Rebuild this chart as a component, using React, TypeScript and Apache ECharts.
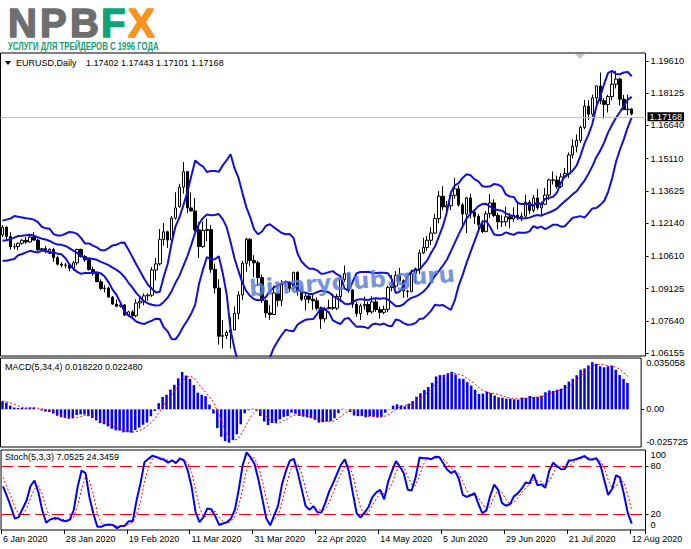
import React, { useEffect, useRef } from "react";
import * as echarts from "echarts";

// EURUSD daily bars, 6 Jan 2020 .. 12 Aug 2020 (March has three short Sunday bars)
const dates = [
  "6 Jan 2020", "7 Jan 2020", "8 Jan 2020", "9 Jan 2020", "10 Jan 2020",
  "13 Jan 2020", "14 Jan 2020", "15 Jan 2020", "16 Jan 2020", "17 Jan 2020",
  "20 Jan 2020", "21 Jan 2020", "22 Jan 2020", "23 Jan 2020", "24 Jan 2020",
  "27 Jan 2020", "28 Jan 2020", "29 Jan 2020", "30 Jan 2020", "31 Jan 2020",
  "3 Feb 2020", "4 Feb 2020", "5 Feb 2020", "6 Feb 2020", "7 Feb 2020",
  "10 Feb 2020", "11 Feb 2020", "12 Feb 2020", "13 Feb 2020", "14 Feb 2020",
  "17 Feb 2020", "18 Feb 2020", "19 Feb 2020", "20 Feb 2020", "21 Feb 2020",
  "24 Feb 2020", "25 Feb 2020", "26 Feb 2020", "27 Feb 2020", "28 Feb 2020",
  "2 Mar 2020", "3 Mar 2020", "4 Mar 2020", "5 Mar 2020", "6 Mar 2020",
  "8 Mar 2020", "9 Mar 2020", "10 Mar 2020", "11 Mar 2020", "12 Mar 2020", "13 Mar 2020",
  "15 Mar 2020", "16 Mar 2020", "17 Mar 2020", "18 Mar 2020", "19 Mar 2020", "20 Mar 2020",
  "22 Mar 2020", "23 Mar 2020", "24 Mar 2020", "25 Mar 2020", "26 Mar 2020", "27 Mar 2020",
  "30 Mar 2020", "31 Mar 2020",
  "1 Apr 2020", "2 Apr 2020", "3 Apr 2020",
  "6 Apr 2020", "7 Apr 2020", "8 Apr 2020", "9 Apr 2020", "10 Apr 2020",
  "13 Apr 2020", "14 Apr 2020", "15 Apr 2020", "16 Apr 2020", "17 Apr 2020",
  "20 Apr 2020", "21 Apr 2020", "22 Apr 2020", "23 Apr 2020", "24 Apr 2020",
  "27 Apr 2020", "28 Apr 2020", "29 Apr 2020", "30 Apr 2020",
  "1 May 2020",
  "4 May 2020", "5 May 2020", "6 May 2020", "7 May 2020", "8 May 2020",
  "11 May 2020", "12 May 2020", "13 May 2020", "14 May 2020", "15 May 2020",
  "18 May 2020", "19 May 2020", "20 May 2020", "21 May 2020", "22 May 2020",
  "25 May 2020", "26 May 2020", "27 May 2020", "28 May 2020", "29 May 2020",
  "1 Jun 2020", "2 Jun 2020", "3 Jun 2020", "4 Jun 2020", "5 Jun 2020",
  "8 Jun 2020", "9 Jun 2020", "10 Jun 2020", "11 Jun 2020", "12 Jun 2020",
  "15 Jun 2020", "16 Jun 2020", "17 Jun 2020", "18 Jun 2020", "19 Jun 2020",
  "22 Jun 2020", "23 Jun 2020", "24 Jun 2020", "25 Jun 2020", "26 Jun 2020",
  "29 Jun 2020", "30 Jun 2020",
  "1 Jul 2020", "2 Jul 2020", "3 Jul 2020",
  "6 Jul 2020", "7 Jul 2020", "8 Jul 2020", "9 Jul 2020", "10 Jul 2020",
  "13 Jul 2020", "14 Jul 2020", "15 Jul 2020", "16 Jul 2020", "17 Jul 2020",
  "20 Jul 2020", "21 Jul 2020", "22 Jul 2020", "23 Jul 2020", "24 Jul 2020",
  "27 Jul 2020", "28 Jul 2020", "29 Jul 2020", "30 Jul 2020", "31 Jul 2020",
  "3 Aug 2020", "4 Aug 2020", "5 Aug 2020", "6 Aug 2020", "7 Aug 2020",
  "10 Aug 2020", "11 Aug 2020", "12 Aug 2020",
];

const opens = [
  1.1160, 1.1195, 1.1152, 1.1105, 1.1106, 1.1121, 1.1135, 1.1127, 1.1150, 1.1136,
  1.1091, 1.1096, 1.1083, 1.1093, 1.1055, 1.1025, 1.1020, 1.1021, 1.1006, 1.1031,
  1.1093, 1.1060, 1.1045, 1.1000, 1.0981, 1.0944, 1.0913, 1.0915, 1.0873, 1.0841,
  1.0831, 1.0837, 1.0790, 1.0805, 1.0787, 1.0846, 1.0854, 1.0879, 1.0882, 1.0998,
  1.1026, 1.1138, 1.1174, 1.1136, 1.1237, 1.1290, 1.1380, 1.1451, 1.1284, 1.1270,
  1.1183, 1.1106, 1.1180, 1.1184, 1.1001, 1.0915, 1.0693, 1.0695, 1.0710, 1.0722,
  1.0798, 1.0883, 1.1029, 1.1140, 1.1042,
  1.1031, 1.0963, 1.0857, 1.0800, 1.0793, 1.0892, 1.0858, 1.0935, 1.0938, 1.0913,
  1.0987, 1.0900, 1.0863, 1.0878, 1.0863, 1.0856, 1.0822, 1.0773, 1.0820, 1.0825,
  1.0822, 1.0876,
  1.0955, 1.0982, 1.0906, 1.0840, 1.0797, 1.0833, 1.0839, 1.0805, 1.0851, 1.0816,
  1.0803, 1.0817, 1.0918, 1.0924, 1.0973, 1.0948, 1.0901, 1.0899, 1.0981, 1.1004,
  1.1077,
  1.1102, 1.1135, 1.1168, 1.1235, 1.1338, 1.1289, 1.1294, 1.1342, 1.1372, 1.1298,
  1.1256, 1.1330, 1.1264, 1.1245, 1.1206, 1.1175, 1.1257, 1.1307, 1.1249, 1.1220,
  1.1220, 1.1243,
  1.1233, 1.1250, 1.1240, 1.1246, 1.1310, 1.1273, 1.1330, 1.1284, 1.1301, 1.1343,
  1.1413, 1.1412, 1.1383, 1.1427, 1.1443, 1.1528, 1.1568, 1.1595, 1.1655, 1.1753,
  1.1716, 1.1791, 1.1846,
  1.1778, 1.1761, 1.1797, 1.1854, 1.1878, 1.1785, 1.1737, 1.17402,
];

const highs = [
  1.1205, 1.1200, 1.1172, 1.1120, 1.1125, 1.1140, 1.1150, 1.1156, 1.1173, 1.1143,
  1.1100, 1.1110, 1.1098, 1.1100, 1.1064, 1.1034, 1.1030, 1.1026, 1.1040, 1.1096,
  1.1096, 1.1068, 1.1048, 1.1013, 1.0984, 1.0955, 1.0930, 1.0922, 1.0878, 1.0862,
  1.0848, 1.0841, 1.0810, 1.0814, 1.0863, 1.0870, 1.0890, 1.0890, 1.1012, 1.1054,
  1.1186, 1.1214, 1.1179, 1.1247, 1.1356, 1.1395, 1.1495, 1.1455, 1.1356, 1.1330,
  1.1218, 1.1220, 1.1235, 1.1204, 1.1027, 1.0955, 1.0767, 1.0720, 1.0780, 1.0830,
  1.0900, 1.1040, 1.1147, 1.1145, 1.1066,
  1.1040, 1.0977, 1.0865, 1.0836, 1.0926, 1.0893, 1.0952, 1.0950, 1.0944, 1.0990,
  1.0992, 1.0926, 1.0890, 1.0892, 1.0888, 1.0871, 1.0830, 1.0828, 1.0861, 1.0890,
  1.0888, 1.0973,
  1.1019, 1.0985, 1.0910, 1.0851, 1.0843, 1.0876, 1.0853, 1.0877, 1.0865, 1.0830,
  1.0834, 1.0926, 1.0975, 1.0993, 1.1008, 1.0955, 1.0906, 1.1000, 1.1009, 1.1092,
  1.1147,
  1.1154, 1.1195, 1.1257, 1.1362, 1.1384, 1.1316, 1.1360, 1.1422, 1.1388, 1.1307,
  1.1336, 1.1350, 1.1275, 1.1257, 1.1228, 1.1269, 1.1349, 1.1323, 1.1262, 1.1250,
  1.1290, 1.1260,
  1.1287, 1.1303, 1.1262, 1.1345, 1.1320, 1.1344, 1.1372, 1.1313, 1.1375, 1.1419,
  1.1452, 1.1433, 1.1443, 1.1468, 1.1540, 1.1600, 1.1623, 1.1663, 1.1781, 1.1780,
  1.1806, 1.1848, 1.1908,
  1.1790, 1.1805, 1.1909, 1.1916, 1.1884, 1.1805, 1.1806, 1.17443,
];

const lows = [
  1.1150, 1.1135, 1.1092, 1.1093, 1.1090, 1.1115, 1.1118, 1.1125, 1.1132, 1.1085,
  1.1085, 1.1075, 1.1078, 1.1036, 1.1019, 1.1010, 1.1006, 1.0992, 1.0995, 1.1020,
  1.1055, 1.1035, 1.0995, 1.0972, 1.0943, 1.0905, 1.0894, 1.0870, 1.0838, 1.0827,
  1.0825, 1.0786, 1.0784, 1.0778, 1.0780, 1.0820, 1.0836, 1.0856, 1.0874, 1.0950,
  1.1018, 1.1110, 1.1100, 1.1115, 1.1230, 1.1285, 1.1350, 1.1260, 1.1268, 1.1175,
  1.1054, 1.1100, 1.1130, 1.0985, 1.0890, 1.0654, 1.0636, 1.0680, 1.0636, 1.0724,
  1.0770, 1.0860, 1.0990, 1.1015, 1.0965,
  1.0925, 1.0846, 1.0778, 1.0769, 1.0792, 1.0830, 1.0831, 1.0920, 1.0897, 1.0908,
  1.0880, 1.0855, 1.0812, 1.0845, 1.0815, 1.0812, 1.0727, 1.0757, 1.0818, 1.0813,
  1.0813, 1.0850,
  1.0942, 1.0893, 1.0824, 1.0782, 1.0767, 1.0815, 1.0790, 1.0797, 1.0805, 1.0774,
  1.0795, 1.0803, 1.0900, 1.0916, 1.0946, 1.0870, 1.0871, 1.0895, 1.0935, 1.0980,
  1.1071,
  1.1086, 1.1113, 1.1165, 1.1213, 1.1273, 1.1252, 1.1274, 1.1326, 1.1290, 1.1195,
  1.1168, 1.1235, 1.1210, 1.1185, 1.1168, 1.1172, 1.1237, 1.1242, 1.1185, 1.1195,
  1.1200, 1.1190,
  1.1220, 1.1228, 1.1222, 1.1240, 1.1256, 1.1263, 1.1275, 1.1252, 1.1297, 1.1320,
  1.1392, 1.1372, 1.1375, 1.1420, 1.1422, 1.1512, 1.1540, 1.1584, 1.1647, 1.1690,
  1.1705, 1.1753, 1.1762,
  1.1696, 1.1724, 1.1780, 1.1835, 1.1755, 1.1736, 1.1711, 1.17101,
];

const closes = [
  1.1195, 1.1152, 1.1105, 1.1106, 1.1121, 1.1135, 1.1127, 1.1150, 1.1136, 1.1091,
  1.1096, 1.1083, 1.1093, 1.1055, 1.1025, 1.1020, 1.1021, 1.1006, 1.1031, 1.1093,
  1.1060, 1.1045, 1.1000, 1.0981, 1.0944, 1.0913, 1.0915, 1.0873, 1.0841, 1.0831,
  1.0837, 1.0790, 1.0805, 1.0787, 1.0846, 1.0854, 1.0879, 1.0882, 1.0998, 1.1026,
  1.1138, 1.1174, 1.1136, 1.1237, 1.1284, 1.1380, 1.1451, 1.1284, 1.1270, 1.1183,
  1.1106, 1.1180, 1.1184, 1.1001, 1.0915, 1.0693, 1.0695, 1.0710, 1.0722, 1.0798,
  1.0883, 1.1029, 1.1140, 1.1042, 1.1031,
  1.0963, 1.0857, 1.0800, 1.0793, 1.0892, 1.0858, 1.0935, 1.0938, 1.0913, 1.0987,
  1.0900, 1.0863, 1.0878, 1.0863, 1.0856, 1.0822, 1.0773, 1.0820, 1.0825, 1.0822,
  1.0876, 1.0955,
  1.0982, 1.0906, 1.0840, 1.0797, 1.0833, 1.0839, 1.0805, 1.0851, 1.0816, 1.0803,
  1.0817, 1.0918, 1.0924, 1.0973, 1.0948, 1.0901, 1.0899, 1.0981, 1.1004, 1.1077,
  1.1102,
  1.1135, 1.1168, 1.1235, 1.1338, 1.1289, 1.1294, 1.1342, 1.1372, 1.1298, 1.1256,
  1.1330, 1.1264, 1.1245, 1.1206, 1.1175, 1.1257, 1.1307, 1.1249, 1.1220, 1.1220,
  1.1243, 1.1233,
  1.1250, 1.1240, 1.1246, 1.1310, 1.1273, 1.1330, 1.1284, 1.1301, 1.1343, 1.1413,
  1.1412, 1.1383, 1.1427, 1.1443, 1.1528, 1.1568, 1.1595, 1.1655, 1.1753, 1.1716,
  1.1791, 1.1846, 1.1778,
  1.1761, 1.1797, 1.1854, 1.1878, 1.1785, 1.1737, 1.1739, 1.17168,
];

// bars before the first visible one, only so the indicators are warmed up at the left edge
const priorCloses = [
  1.1165, 1.1128, 1.1074, 1.1066, 1.1050, 1.1018, 1.1033, 1.1007, 1.1006, 1.1022,
  1.1051, 1.1072, 1.1077, 1.1075, 1.1056, 1.1020, 1.1012, 1.1020, 1.1007, 1.1011,
  1.1016, 1.1078, 1.1081, 1.1078, 1.1104, 1.1059, 1.1064, 1.1093, 1.1128, 1.1131,
  1.1120, 1.1144, 1.1150, 1.1113, 1.1121, 1.1080, 1.1090, 1.1088, 1.1100, 1.1176,
  1.1200, 1.1213, 1.1172, 1.1160,
];
const priorHighs = [1.1123, 1.1093, 1.1095, 1.1102, 1.1186, 1.1208, 1.1239, 1.1226, 1.1180];
const priorLows = [1.1066, 1.1065, 1.1071, 1.1075, 1.1096, 1.1170, 1.1199, 1.1163, 1.1128];

const priceTicks = [1.06155, 1.0764, 1.09125, 1.1061, 1.1214, 1.13625, 1.1511, 1.1664, 1.18125, 1.1961];
const macdMin = -0.025725;
const macdMax = 0.035058;
const stochLevels = [20, 80];

const headerText = "EURUSD,Daily";
const macdText = "MACD(5,34,4) 0.018220 0.022480";
const stochText = "Stoch(5,3,3) 7.0525 24.3459";
const watermark = "binaryclub.guru";

const FONT = "'Liberation Sans', Arial, sans-serif";
const BLUE = "#0000ff";
const RED = "#ff0000";

// Bollinger bands on close: period, deviations, shift forward in bars
function bands(period: number, dev: number, shift: number) {
  const all = [...priorCloses, ...closes];
  const p = priorCloses.length;
  const up: number[] = [], mid: number[] = [], lo: number[] = [];
  for (let i = 0; i < closes.length; i++) {
    const end = p + i - shift;
    const w = all.slice(end - period + 1, end + 1);
    const m = w.reduce((a, b) => a + b, 0) / w.length;
    const sd = Math.sqrt(w.reduce((a, b) => a + (b - m) * (b - m), 0) / w.length);
    mid.push(m);
    up.push(m + dev * sd);
    lo.push(m - dev * sd);
  }
  return { up, mid, lo };
}

// MACD(5,34,4): EMA5 - EMA34, signal = SMA4
function macd() {
  const all = [...priorCloses, ...closes];
  const ema = (n: number) => {
    const k = 2 / (n + 1);
    const out = [all[0]];
    for (let i = 1; i < all.length; i++) out.push(out[i - 1] + k * (all[i] - out[i - 1]));
    return out;
  };
  const e5 = ema(5), e34 = ema(34);
  const m = all.map((_, i) => e5[i] - e34[i]);
  const sig = m.map((_, i) => (i < 3 ? m[i] : (m[i] + m[i - 1] + m[i - 2] + m[i - 3]) / 4));
  const p = priorCloses.length;
  return { main: m.slice(p), signal: sig.slice(p) };
}

// Stochastic(5,3,3)
function stoch() {
  const q = priorHighs.length;
  const c = [...priorCloses.slice(-q), ...closes];
  const h = [...priorHighs, ...highs];
  const l = [...priorLows, ...lows];
  const num: number[] = [], den: number[] = [], k: number[] = [];
  for (let i = 0; i < c.length; i++) {
    const a = Math.max(0, i - 4);
    const hh = Math.max(...h.slice(a, i + 1));
    const ll = Math.min(...l.slice(a, i + 1));
    num.push(c[i] - ll);
    den.push(hh - ll);
  }
  for (let i = 0; i < c.length; i++) {
    const a = Math.max(0, i - 2);
    let sn = 0, sd = 0;
    for (let j = a; j <= i; j++) { sn += num[j]; sd += den[j]; }
    k.push(sd === 0 ? 50 : (100 * sn) / sd);
  }
  const d = k.map((_, i) => {
    const a = Math.max(0, i - 2);
    const w = k.slice(a, i + 1);
    return w.reduce((x, y) => x + y, 0) / w.length;
  });
  return { main: k.slice(q), signal: d.slice(q) };
}

const App: React.FC = () => {
  const chartRef = useRef<HTMLDivElement>(null);

  useEffect(() => {
    const chart = echarts.init(chartRef.current!, null, { renderer: "svg" });
    const bb = bands(10, 2, 3);
    const md = macd();
    const st = stoch();
    const cats = [...dates, "", "", ""];
    const last = closes.length - 1;
    const candles = closes.map((c, i) => [opens[i], c, lows[i], highs[i]]);
    const ohlcText = [opens[last], highs[last], lows[last], closes[last]].map((v) => v.toFixed(5)).join(" ");

    const axisText = { color: "#000", fontSize: 9.3, lineHeight: 10, fontFamily: FONT };
    const xAxis = [0, 1, 2].map((g) => ({
      type: "category",
      gridIndex: g,
      data: cats,
      boundaryGap: true,
      axisLine: { show: false },
      axisTick: {
        show: g === 2,
        interval: (i: number) => i % 16 === 0 && i < dates.length,
        length: 4,
        lineStyle: { color: "#000" },
      },
      axisLabel: {
        show: g === 2,
        interval: (i: number) => i % 16 === 0 && i < dates.length,
        align: "left",
        margin: 4,
        ...axisText,
        fontSize: 9,
      },
      splitLine: { show: false },
    }));

    const yBase = (g: number, min: number, max: number) => ({
      type: "value",
      gridIndex: g,
      position: "right",
      min,
      max,
      axisLine: { show: false },
      splitLine: { show: false },
    });

    const options = {
      animation: false,
      backgroundColor: "#fff",
      textStyle: { fontFamily: FONT },
      grid: [
        { left: 0.5, top: 53, width: 645, height: 303, show: true, borderColor: "#000", borderWidth: 1 },
        { left: 0.5, top: 358, width: 645, height: 89, show: true, borderColor: "#000", borderWidth: 1 },
        { left: 0.5, top: 450, width: 645, height: 80, show: true, borderColor: "#000", borderWidth: 1 },
      ],
      xAxis,
      yAxis: [
        {
          ...yBase(0, 1.06017, 1.19979),
          axisLabel: { customValues: priceTicks, formatter: (v: number) => v.toFixed(5), margin: 5, ...axisText },
          axisTick: { show: true, customValues: priceTicks, length: 3, lineStyle: { color: "#000" } },
        },
        {
          ...yBase(1, macdMin, macdMax),
          axisLabel: { customValues: [0], formatter: () => "0.00", margin: 5, ...axisText },
          axisTick: { show: true, customValues: [0], length: 3, lineStyle: { color: "#000" } },
        },
        {
          ...yBase(1, macdMin, macdMax),
          axisLabel: { customValues: [macdMax], formatter: (v: number) => String(v), verticalAlign: "top", margin: 5, ...axisText },
          axisTick: { show: false },
        },
        {
          ...yBase(1, macdMin, macdMax),
          axisLabel: { customValues: [macdMin], formatter: (v: number) => String(v), verticalAlign: "bottom", margin: 5, ...axisText },
          axisTick: { show: false },
        },
        {
          ...yBase(2, 0, 100),
          axisLabel: { customValues: stochLevels, margin: 5, ...axisText },
          axisTick: { show: true, customValues: stochLevels, length: 3, lineStyle: { color: "#000" } },
        },
        {
          ...yBase(2, 0, 100),
          axisLabel: { customValues: [100], verticalAlign: "top", margin: 5, ...axisText },
          axisTick: { show: false },
        },
        {
          ...yBase(2, 0, 100),
          axisLabel: { customValues: [0], verticalAlign: "bottom", margin: 5, ...axisText },
          axisTick: { show: false },
        },
      ],
      series: [
        {
          name: "EURUSD",
          type: "candlestick",
          xAxisIndex: 0,
          yAxisIndex: 0,
          data: candles,
          barWidth: 3,
          itemStyle: {
            color: "#fff",
            color0: "#000",
            borderColor: "#000",
            borderColor0: "#000",
            borderWidth: 1,
          },
          markLine: {
            silent: true,
            symbol: ["none", "none"],
            lineStyle: { color: "#c0c0c0", width: 1, type: "solid" },
            label: {
              show: true,
              position: "end",
              distance: 2,
              offset: [0, -1],
              formatter: closes[last].toFixed(5),
              color: "#fff",
              backgroundColor: "#000",
              padding: [0, 2, 0, 2],
              lineHeight: 9,
              fontSize: 9,
              fontFamily: FONT,
            },
            data: [{ yAxis: closes[last] }],
          },
        },
        ...[bb.up, bb.mid, bb.lo].map((d) => ({
          type: "line",
          xAxisIndex: 0,
          yAxisIndex: 0,
          data: d,
          showSymbol: false,
          lineStyle: { color: "#1010d8", width: 2 },
        })),
        {
          name: "MACD",
          type: "bar",
          xAxisIndex: 1,
          yAxisIndex: 1,
          data: md.main,
          barWidth: 2.5,
          itemStyle: { color: BLUE },
        },
        {
          name: "Signal",
          type: "line",
          xAxisIndex: 1,
          yAxisIndex: 1,
          data: md.signal,
          showSymbol: false,
          lineStyle: { color: RED, width: 1, type: [2, 2] },
        },
        {
          name: "Stoch",
          type: "line",
          xAxisIndex: 2,
          yAxisIndex: 4,
          data: st.main,
          showSymbol: false,
          lineStyle: { color: BLUE, width: 2 },
          z: 4,
          markLine: {
            silent: true,
            symbol: ["none", "none"],
            label: { show: false },
            lineStyle: { color: RED, width: 1, type: [12, 5] },
            data: stochLevels.map((v) => ({ yAxis: v })),
            z: 1,
          },
        },
        {
          name: "Stoch signal",
          type: "line",
          xAxisIndex: 2,
          yAxisIndex: 4,
          data: st.signal,
          showSymbol: false,
          lineStyle: { color: RED, width: 1, type: [2, 2] },
          z: 3,
        },
      ],
      graphic: [
        // logo
        ...[
          ["N", 8, "#6d6e70"],
          ["P", 40, "#6d6e70"],
          ["B", 70, "#6d6e70"],
          ["F", 101, "#12a27b"],
          ["X", 128, "#f7931e"],
        ].map(([t, x, c]) => ({
          type: "text",
          x: x as number,
          y: 23,
          style: {
            text: t as string,
            fill: c as string,
            stroke: c as string,
            lineWidth: 1.5,
            font: `bold 40px ${FONT}`,
            verticalAlign: "middle",
          },
        })),
        {
          type: "text",
          x: 8,
          y: 47,
          scaleX: 0.78,
          style: {
            text: "УСЛУГИ ДЛЯ ТРЕЙДЕРОВ С 1996 ГОДА",
            fill: "#14a074",
            font: `bold 10px ${FONT}`,
            verticalAlign: "middle",
          },
        },
        // header of the main window
        {
          type: "polygon",
          shape: { points: [[5, 61], [11, 61], [8, 65]] },
          style: { fill: "#000" },
        },
        {
          type: "text",
          x: 16,
          y: 63,
          style: { text: headerText, fill: "#000", font: `9px ${FONT}`, verticalAlign: "middle" },
        },
        {
          type: "text",
          x: 86,
          y: 63,
          style: { text: ohlcText, fill: "#000", font: `9px ${FONT}`, verticalAlign: "middle" },
        },
        {
          type: "polygon",
          shape: { points: [[575, 54], [585, 54], [580, 59]] },
          style: { fill: "#c8c8c8" },
        },
        {
          type: "text",
          x: 5,
          y: 367,
          style: { text: macdText, fill: "#000", font: `9px ${FONT}`, verticalAlign: "middle" },
        },
        {
          type: "text",
          x: 5,
          y: 457,
          style: { text: stochText, fill: "#000", font: `9px ${FONT}`, verticalAlign: "middle" },
        },
        {
          type: "text",
          x: 352,
          y: 281,
          rotation: 0.07,
          z: 10,
          style: {
            text: watermark,
            fill: "#5d82d8",
            opacity: 0.85,
            font: `bold 23px 'DejaVu Sans', sans-serif`,
            align: "center",
            verticalAlign: "middle",
          },
        },
      ],
    };

    chart.setOption(options as any);

    return () => {
      chart.dispose();
    };
  }, []);

  return (
    <div
      ref={chartRef}
      style={{ position: "absolute", left: 0, top: 0, width: 691, height: 549 }}
    ></div>
  );
};

export default App;
